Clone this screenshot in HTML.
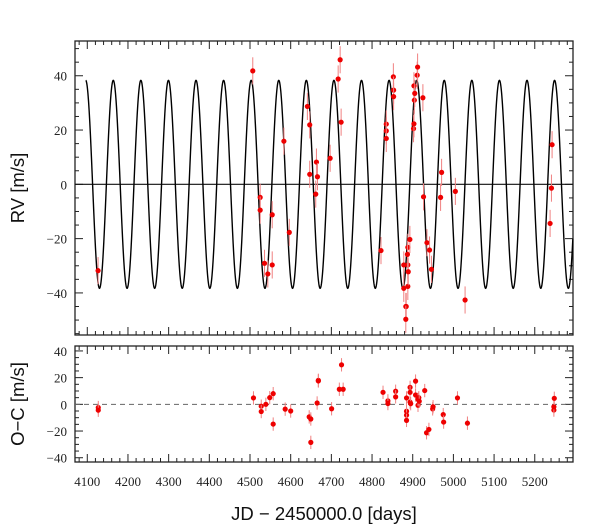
<!DOCTYPE html>
<html><head><meta charset="utf-8">
<style>
html,body{margin:0;padding:0;background:#fff;}
svg{display:block;}
.tick{font-family:"Liberation Serif",serif;font-size:13px;fill:#222;}
.title{font-family:"Liberation Sans",sans-serif;font-size:18.5px;fill:#111;}
</style></head>
<body>
<svg id="chart" width="600" height="528" viewBox="0 0 600 528" xmlns="http://www.w3.org/2000/svg">
<text class="title" transform="translate(24,188) rotate(-90)" text-anchor="middle">RV [m/s]</text>
<text class="title" transform="translate(24,404) rotate(-90)" text-anchor="middle">O−C [m/s]</text>
<text class="title" x="324" y="520" text-anchor="middle">JD − 2450000.0 [days]</text>
</svg>
<script>
// ---- data ----
const rvDays = [4126.5,4506.8,4525,4525,4535.7,4543.8,4554.6,4554.6,4583.3,4596.6,4641,4646.8,4646.8,4663.3,4665.8,4661.6,4697,4716.7,4721.6,4724,4822,4835,4835,4835,4852.4,4853,4853,4878,4878,4883,4884,4883,4888,4888,4888,4887,4889,4893,4902,4903,4903,4904,4905,4911,4912,4925,4926.6,4935,4941.4,4946,4968.5,4971,5004.8,5028.7,5237.7,5241,5242.6];
const rvValues = [-31.8,41.8,-4.8,-9.5,-29.1,-33,-29.7,-11.2,15.9,-17.7,28.7,21.9,3.7,8.2,2.8,-3.6,9.6,38.8,45.9,22.9,-24.4,22.2,19.7,16.9,39.6,34.7,32.3,-29.7,-38.3,-45,-45,-49.7,-29.7,-37.6,-23.2,-25.8,-32.2,-20.3,20.5,22.3,36.3,31,33.5,40.2,43.2,31.9,-4.6,-21.5,-24.2,-31.3,-4.8,4.4,-2.6,-42.6,-14.4,-1.4,14.6];
const ocDays = [4127,4127,4508.5,4527.6,4527.6,4539,4548.5,4557,4557,4586.5,4600,4645.5,4649.5,4649.5,4665,4668,4668,4700.6,4719.6,4729,4725,4827,4839,4839,4858,4858,4884.8,4884.8,4884.8,4884.8,4893.5,4893.5,4893.5,4895,4907,4907,4913,4913,4915,4916,4929.5,4934,4939.8,4949,4950,4975,4976,5010,5034.5,5247,5247,5248];
const ocValues = [-2.4,-4.4,4.8,-1.4,-5.4,0,5,8,-14.8,-3.6,-5,-9.4,-11,-28.5,1,18,17.5,-3.3,11.3,11.3,29.6,9,2.6,0.6,9.8,5.6,4.8,-5.2,-8.1,-12,12.7,9,1.7,0.5,7,17.4,-0.7,3.8,5,2.3,10.3,-21.3,-18.8,-3.4,-1.8,-7.7,-13.3,4.8,-14.1,-4.3,-1.8,4.5];
const errBar = 5;
const xTickLabels = [4100,4200,4300,4400,4500,4600,4700,4800,4900,5000,5100,5200];
const rvTickLabels = [-40,-20,0,20,40];
const ocTickLabels = [-40,-20,0,20,40];
const modelK = 38.3, modelP = 67.8, modelT0 = 4096.1;

// ---- layout ----
const NS = "http://www.w3.org/2000/svg";
const svg = document.getElementById('chart');
const L = 75, R = 573;
const xMin = 4069.8, xMax = 5294;
const top1 = 41, bot1 = 335, yMin1 = -55.5, yMax1 = 52.8;
const top2 = 346, bot2 = 462, yMin2 = -43.2, yMax2 = 43.7;
const xs = d => L + (d - xMin) / (xMax - xMin) * (R - L);
const y1 = v => bot1 - (v - yMin1) / (yMax1 - yMin1) * (bot1 - top1);
const y2 = v => bot2 - (v - yMin2) / (yMax2 - yMin2) * (bot2 - top2);

function mk(tag, attrs, parent) {
  const e = document.createElementNS(NS, tag);
  for (const k in attrs) e.setAttribute(k, attrs[k]);
  (parent || svg).appendChild(e);
  return e;
}

function panel(name, top, bot, ys, yMinV, yMaxV, labels, showX) {
  const g = mk('g', {});
  
  
  for (let d = 4080; d <= xMax; d += 20) {
    const x = xs(d);
    const major = d % 100 === 0;
    const len = major ? 8 : 4;
    mk('line', {x1:x, x2:x, y1:bot, y2:bot-len, stroke:'#222', 'stroke-width':1}, g);
    mk('line', {x1:x, x2:x, y1:top, y2:top+len, stroke:'#222', 'stroke-width':1}, g);
  }
  for (let v = Math.ceil(yMinV/5)*5; v <= yMaxV; v += 5) {
    const y = ys(v);
    const major = v % 20 === 0;
    const len = major ? 8 : 4;
    mk('line', {x1:L, x2:L+len, y1:y, y2:y, stroke:'#222', 'stroke-width':1}, g);
    mk('line', {x1:R, x2:R-len, y1:y, y2:y, stroke:'#222', 'stroke-width':1}, g);
  }
  labels.forEach(v => {
    const t = mk('text', {class:'tick', x:L-8, y:ys(v)+5, 'text-anchor':'end'}, g);
    
    
    t.textContent = v < 0 ? '−' + Math.abs(v) : String(v);
  });
  if (showX) {
    xTickLabels.forEach(d => {
      const t = mk('text', {class:'tick', x:xs(d), y:bot+24, 'text-anchor':'middle'}, g);
      
      
      t.textContent = String(d);
    });
  }
  const fr = mk('rect', {x:L, y:top, width:R-L, height:bot-top, fill:'none', stroke:'#222', 'stroke-width':1.3}, g);
  
  
  return g;
}

panel('rv-panel', top1, bot1, y1, yMin1, yMax1, rvTickLabels, false);
panel('residual-panel', top2, bot2, y2, yMin2, yMax2, ocTickLabels, true);

const z1 = mk('line', {x1:L, x2:R, y1:y1(0), y2:y1(0), stroke:'#111', 'stroke-width':1.2});


const z2 = mk('line', {x1:L, x2:R, y1:y2(0), y2:y2(0), stroke:'#666', 'stroke-width':1, 'stroke-dasharray':'5,4'});



let dstr = '';
for (let d = modelT0; d <= xMax; d += 0.5) {
  const v = modelK * Math.cos(2 * Math.PI * (d - modelT0) / modelP);
  dstr += (dstr ? 'L' : 'M') + xs(d).toFixed(2) + ',' + y1(v).toFixed(2);
}
const curve = mk('path', {d:dstr, fill:'none', stroke:'#000', 'stroke-width':1.4});



function points(days, vals, ys, nm) {
  days.forEach((d, i) => {
    const x = xs(d), y = ys(vals[i]);
    const e = mk('line', {x1:x, x2:x, y1:ys(vals[i]-errBar), y2:ys(vals[i]+errBar), stroke:'#f08080', 'stroke-width':1});
    
    
    const c = mk('circle', {cx:x, cy:y, r:2.6, fill:'#ee0000'});
    
    
  });
}
points(rvDays, rvValues, y1, 'rv');
points(ocDays, ocValues, y2, 'oc');
</script>
</body></html>
